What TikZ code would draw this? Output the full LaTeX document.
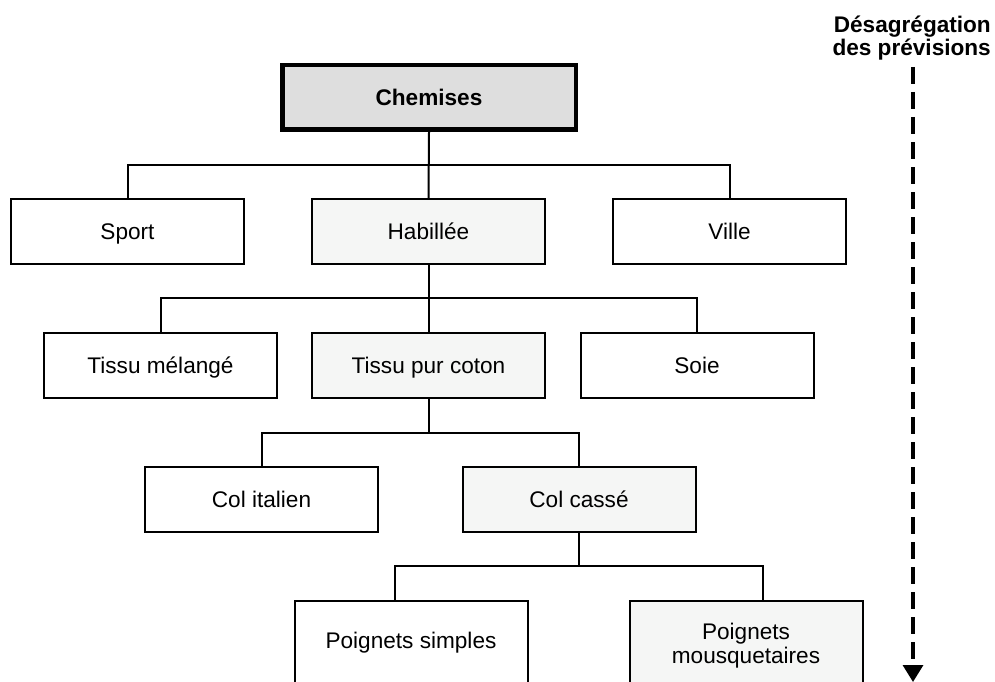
\documentclass[tikz,border=0pt]{standalone}
\usepackage{fontspec}
\setmainfont{Liberation Sans}
\usetikzlibrary{arrows.meta}
\definecolor{rootfill}{HTML}{DEDEDE}
\definecolor{pathfill}{HTML}{F5F6F5}
\begin{document}
\begin{tikzpicture}[x=1pt,y=-1pt,
  every node/.style={font=\fontsize{22.6}{22}\selectfont},
  box/.style={draw=black, line width=2pt, minimum width=233pt, minimum height=65pt, inner sep=0pt,
    text height=16.2pt, text depth=0pt, fill=white},
  chosen/.style={box, fill=pathfill},
  rootbox/.style={draw=black, line width=4.5pt, minimum width=293.5pt, minimum height=64.5pt, fill=rootfill,
    inner sep=0pt, text height=16.2pt, text depth=0pt, font=\fontsize{22.6}{22}\selectfont\bfseries},
  link/.style={draw=black, line width=2pt},
  openbox/.style={draw=black, line width=2pt, minimum width=233pt, minimum height=90pt, inner sep=0pt, anchor=north, fill=white},
  plain/.style={inner sep=0pt, align=center}]
\useasboundingbox (0,0) rectangle (995,682);
\clip (0,0) rectangle (995,682);

% levels of the product hierarchy
\node[rootbox] (chem) at (429,97.5) {Chemises};

\node[box]    (sport) at (127.5,231.5) {Sport};
\node[chosen] (hab)   at (428.5,231.5) {Habillée};
\node[box]    (ville) at (729.5,231.5) {Ville};

\node[box]    (melange) at (160.5,365) {Tissu mélangé};
\node[chosen] (coton)   at (428.5,365) {Tissu pur coton};
\node[box]    (soie)    at (697,365)   {Soie};

\node[box]    (italien) at (261.5,499.5) {Col italien};
\node[chosen] (casse)   at (579,499.5)   {Col cassé};

% bottom boxes run past the lower edge
\node[openbox] (simple) at (411,600) {};
\node[openbox, fill=pathfill] (mousq) at (746,600) {};
\node[plain, anchor=base] (simplet) at (411,648) {Poignets simples};
\node[plain, font=\fontsize{22.6}{24}\selectfont] (mousqt) at (746,646) {Poignets\\mousquetaires};

% tree connectors
\coordinate (bar1) at (429,165);
\coordinate (bar2) at (428.5,298);
\coordinate (bar3) at (428.5,433);
\coordinate (bar4) at (579,566);

\draw[link] (chem.south) -- (hab.north);
\draw[link] (sport.north) |- (bar1) -| (ville.north);

\draw[link] (hab.south) -- (coton.north);
\draw[link] (melange.north) |- (bar2) -| (soie.north);

\draw[link] (coton.south) -- (bar3);
\draw[link] (italien.north) |- (bar3) -| (casse.north);

\draw[link] (casse.south) -- (bar4);
\draw[link] ([xshift=-16pt]simple.north) |- (bar4) -| ([xshift=17pt]mousq.north);

% forecast disaggregation direction
\node[plain, anchor=north east, font=\fontsize{22.6}{21}\selectfont\bfseries, align=right] (desag) at (991,16) {Désagrégation\\des prévisions};
\coordinate (arrowtop) at (913,67);
\coordinate (arrowend) at (913,682);
\draw[line width=3.3pt, dash pattern=on 17pt off 8pt, -{Triangle[width=20pt,length=17pt]}] (arrowtop) -- (arrowend);
\end{tikzpicture}
\end{document}
